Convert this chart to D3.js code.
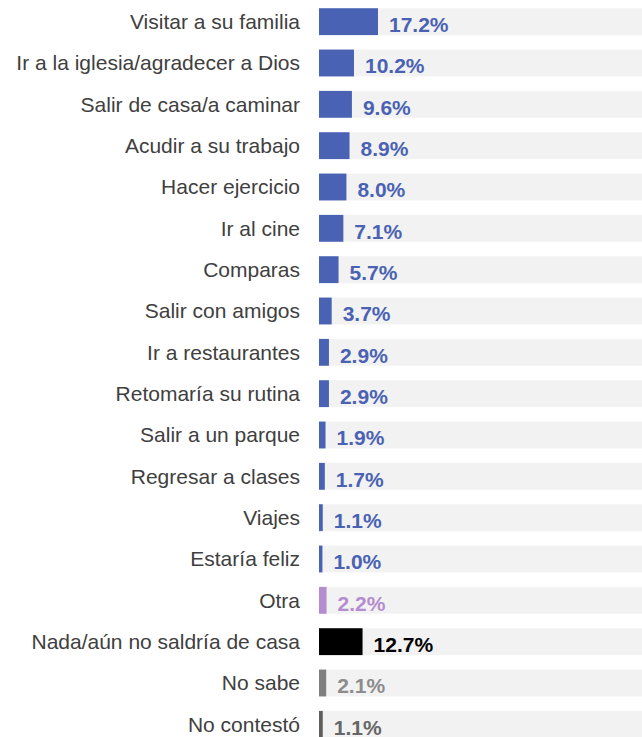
<!DOCTYPE html>
<html>
<head>
<meta charset="utf-8">
<script src="https://cdn.jsdelivr.net/npm/d3@7"></script>
<style>
  body { margin: 0; background: #fff; }
  svg { display: block; }
</style>
</head>
<body>
<svg id="chart" width="642" height="737"></svg>
<script>
const categories = [
    'Visitar a su familia',
    'Ir a la iglesia/agradecer a Dios',
    'Salir de casa/a caminar',
    'Acudir a su trabajo',
    'Hacer ejercicio',
    'Ir al cine',
    'Comparas',
    'Salir con amigos',
    'Ir a restaurantes',
    'Retomaría su rutina',
    'Salir a un parque',
    'Regresar a clases',
    'Viajes',
    'Estaría feliz',
    'Otra',
    'Nada/aún no saldría de casa',
    'No sabe',
    'No contestó'
];
const values = [17.2, 10.2, 9.6, 8.9, 8.0, 7.1, 5.7, 3.7, 2.9, 2.9, 1.9, 1.7, 1.1, 1.0, 2.2, 12.7, 2.1, 1.1];
const valueLabels = ['17.2%', '10.2%', '9.6%', '8.9%', '8.0%', '7.1%', '5.7%', '3.7%', '2.9%', '2.9%',
    '1.9%', '1.7%', '1.1%', '1.0%', '2.2%', '12.7%', '2.1%', '1.1%'];
const groups = ['a', 'a', 'a', 'a', 'a', 'a', 'a', 'a', 'a', 'a', 'a', 'a', 'a', 'a', 'otra', 'nada', 'nosabe', 'nc'];

const barColor = { a: '#4a62b4', otra: '#b48dd0', nada: '#000000', nosabe: '#7f7f7f', nc: '#5f5f5f' };
const textColor = { a: '#4a62b4', otra: '#b48dd0', nada: '#000000', nosabe: '#8c8c8c', nc: '#666666' };

const svg = d3.select('#chart');
const width = 642;

const rows = categories.map((c, i) => ({ cat: c, v: values[i], lab: valueLabels[i], g: groups[i] }));

const x = d3.scaleLinear().domain([0, 94.2]).range([319, width]);
const y = d3.scaleBand().domain(categories).range([1, 745]).paddingInner(0.35).paddingOuter(0.175);

// gray backgrounds
svg.selectAll('rect.bg')
    .data(rows)
    .enter()
    .append('rect')
    .attr('class', 'bg')
    .attr('x', x(0))
    .attr('y', d => y(d.cat))
    .attr('width', width - x(0))
    .attr('height', y.bandwidth())
    .attr('fill', '#f2f2f2');

// bars
svg.selectAll('rect.bar')
    .data(rows)
    .enter()
    .append('rect')
    .attr('class', 'bar')
    .attr('x', x(0))
    .attr('y', d => y(d.cat))
    .attr('width', d => x(d.v) - x(0))
    .attr('height', y.bandwidth())
    .attr('fill', d => barColor[d.g]);

// category labels
const yAxis = d3.axisLeft(y).tickSize(0).tickPadding(0);
const gAxis = svg.append('g')
    .attr('transform', 'translate(300,0)')
    .call(yAxis);
gAxis.select('.domain').remove();
gAxis.selectAll('text')
    .attr('font-family', 'Liberation Sans, Arial, sans-serif')
    .attr('font-size', 21)
    .attr('fill', '#404040')
    .attr('dy', '0.35em');

// value labels
svg.selectAll('text.val')
    .data(rows)
    .enter()
    .append('text')
    .attr('class', 'val')
    .attr('x', d => x(d.v) + 11)
    .attr('y', d => y(d.cat) + y.bandwidth() / 2 + 3)
    .attr('dy', '0.35em')
    .attr('font-family', 'Liberation Sans, Arial, sans-serif')
    .attr('font-size', 21)
    .attr('font-weight', 'bold')
    .attr('fill', d => textColor[d.g])
    .text(d => d.lab);
</script>
</body>
</html>
